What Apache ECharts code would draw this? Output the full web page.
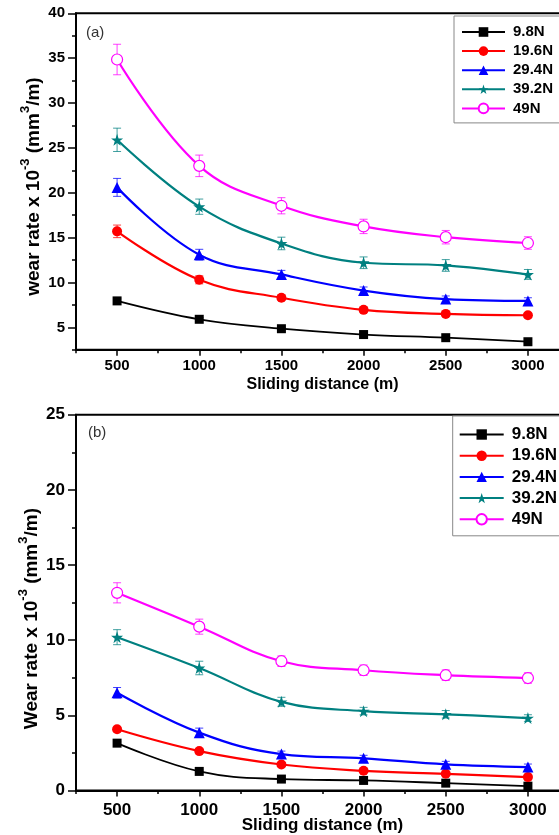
<!DOCTYPE html>
<html>
<head>
<meta charset="utf-8">
<script src="https://cdn.jsdelivr.net/npm/echarts@6/dist/echarts.min.js"></script>
<style>
html,body{margin:0;padding:0;background:#fff;}
#chart{width:559px;height:835px;}
</style>
</head>
<body>
<div id="chart"></div>
<script>
// ---- data ----
const distances = [500, 1000, 1500, 2000, 2500, 3000];
const loadNames = ['9.8N', '19.6N', '29.4N', '39.2N', '49N'];

// panel (a)
const a_9_8  = [7.95, 5.9, 4.85, 4.2, 3.85, 3.4];
const a_19_6 = [15.7, 10.3, 8.3, 6.95, 6.5, 6.35];
const a_29_4 = [20.6, 13.1, 10.9, 9.1, 8.15, 7.95];
const a_39_2 = [25.9, 18.45, 14.35, 12.2, 11.9, 10.9];
const a_49   = [34.85, 23.0, 18.55, 16.25, 15.05, 14.4];
const aErr_9_8  = [0.25, 0.2, 0.15, 0.15, 0.15, 0.15];
const aErr_19_6 = [0.7, 0.45, 0.3, 0.3, 0.25, 0.25];
const aErr_29_4 = [1.0, 0.6, 0.45, 0.4, 0.35, 0.35];
const aErr_39_2 = [1.3, 0.85, 0.7, 0.65, 0.65, 0.55];
const aErr_49   = [1.7, 1.2, 0.9, 0.8, 0.75, 0.7];

// panel (b)
const b_9_8  = [3.15, 1.27, 0.76, 0.67, 0.49, 0.29];
const b_19_6 = [4.07, 2.62, 1.73, 1.31, 1.11, 0.89];
const b_29_4 = [6.5, 3.85, 2.42, 2.14, 1.74, 1.56];
const b_39_2 = [10.2, 8.15, 5.9, 5.28, 5.07, 4.82];
const b_49   = [13.15, 10.9, 8.6, 8.0, 7.67, 7.48];
const bErr_9_8  = [0.1, 0.1, 0.08, 0.08, 0.08, 0.08];
const bErr_19_6 = [0.15, 0.15, 0.12, 0.12, 0.12, 0.12];
const bErr_29_4 = [0.35, 0.3, 0.2, 0.2, 0.2, 0.2];
const bErr_39_2 = [0.5, 0.45, 0.3, 0.25, 0.25, 0.22];
const bErr_49   = [0.67, 0.5, 0.35, 0.35, 0.35, 0.35];

// ticks
const xTicks = [500, 1000, 1500, 2000, 2500, 3000];
const xMinorTicks = [250, 750, 1250, 1750, 2250, 2750, 3250];
const aYTicks = [5, 10, 15, 20, 25, 30, 35, 40];
const aYMinorTicks = [2.5, 7.5, 12.5, 17.5, 22.5, 27.5, 32.5, 37.5];
const bYTicks = [0, 5, 10, 15, 20, 25];
const bYMinorTicks = [2.5, 7.5, 12.5, 17.5, 22.5];

// ---- styles ----
const FONT = 'Liberation Sans';
const colors = ['#000000', '#ff0000', '#0000ff', '#008080', '#ff00ff'];
const starPath = 'path://M50,0 L61.8,35.1 L98.1,35.1 L68.7,56.8 L79.4,91.3 L50,70 L20.6,91.3 L31.3,56.8 L1.9,35.1 L38.2,35.1 Z';
const symbols = ['rect', 'circle', 'triangle', starPath, 'circle'];
const symbolSizes = [9, 10, 11, 12, 11];

const aVals = [a_9_8, a_19_6, a_29_4, a_39_2, a_49];
const aErrs = [aErr_9_8, aErr_19_6, aErr_29_4, aErr_39_2, aErr_49];
const bVals = [b_9_8, b_19_6, b_29_4, b_39_2, b_49];
const bErrs = [bErr_9_8, bErr_19_6, bErr_29_4, bErr_39_2, bErr_49];

function errRender(params, api) {
  const x = api.value(0), y = api.value(1), e = api.value(2);
  const hi = api.coord([x, y + e]);
  const lo = api.coord([x, y - e]);
  const cap = 4;
  const style = { stroke: api.visual('color'), lineWidth: 1, opacity: 0.75 };
  return {
    type: 'group',
    children: [
      { type: 'line', shape: { x1: hi[0], y1: hi[1], x2: lo[0], y2: lo[1] }, style: style },
      { type: 'line', shape: { x1: hi[0] - cap, y1: hi[1], x2: hi[0] + cap, y2: hi[1] }, style: style },
      { type: 'line', shape: { x1: lo[0] - cap, y1: lo[1], x2: lo[0] + cap, y2: lo[1] }, style: style }
    ]
  };
}

function makeSeries(vals, errs, axisIdx) {
  const out = [];
  vals.forEach((v, k) => {
    out.push({
      type: 'custom',
      name: loadNames[k] + '_err',
      xAxisIndex: axisIdx, yAxisIndex: axisIdx,
      itemStyle: { color: colors[k] },
      renderItem: errRender,
      data: distances.map((d, i) => [d, v[i], errs[k][i]]),
      z: 1, silent: true
    });
  });
  vals.forEach((v, k) => {
    const hollow = k === 4;
    out.push({
      type: 'line',
      name: loadNames[k],
      xAxisIndex: axisIdx, yAxisIndex: axisIdx,
      data: distances.map((d, i) => [d, v[i]]),
      smooth: 0.4,
      symbol: symbols[k],
      symbolSize: symbolSizes[k],
      showAllSymbol: true,
      color: colors[k],
      lineStyle: { color: colors[k], width: k === 0 ? 1.8 : 2.2 },
      itemStyle: hollow ? { color: '#ffffff', borderColor: colors[k], borderWidth: 1.2 } : { color: colors[k] },
      z: 3, animation: false
    });
  });
  return out;
}

function xAxes(gridIndex, labelSize, nameSize, labelMargin, nameGap) {
  return [{
    type: 'value', gridIndex: gridIndex, min: 250, max: 3250,
    position: 'bottom',
    axisLine: { show: true, onZero: false, lineStyle: { color: '#000', width: 2 } },
    axisTick: { show: true, customValues: xTicks, length: 6, lineStyle: { color: '#000', width: 1.5 } },
    axisLabel: { customValues: xTicks, formatter: v => String(v), color: '#000', fontFamily: FONT, fontWeight: 'bold', fontSize: labelSize, margin: labelMargin },
    splitLine: { show: false },
    name: 'Sliding distance (m)', nameLocation: 'middle', nameGap: nameGap, nameMoveOverlap: false,
    nameTextStyle: { color: '#000', fontFamily: FONT, fontWeight: 'bold', fontSize: nameSize }
  }, {
    type: 'value', gridIndex: gridIndex, min: 250, max: 3250,
    position: 'bottom',
    axisLine: { show: false, onZero: false },
    axisTick: { show: true, customValues: xMinorTicks, length: 3.5, lineStyle: { color: '#000', width: 1.5 } },
    axisLabel: { show: false, customValues: xMinorTicks },
    splitLine: { show: false }
  }];
}

function yAxes(gridIndex, min, max, ticks, minor, labelSize, nameRich, nameGap, pad) {
  return [{
    type: 'value', gridIndex: gridIndex, min: min, max: max,
    position: 'left',
    axisLine: { show: true, onZero: false, lineStyle: { color: '#000', width: 2 } },
    axisTick: { show: true, customValues: ticks, length: 8, lineStyle: { color: '#000', width: 1.5 } },
    axisLabel: { customValues: ticks, color: '#000', fontFamily: FONT, fontWeight: 'bold', fontSize: labelSize, margin: 11 },
    splitLine: { show: false },
    name: nameRich, nameLocation: 'middle', nameGap: nameGap, nameMoveOverlap: false,
    nameTextStyle: {
      color: '#000',
      padding: pad,
      rich: {
        m: { fontFamily: FONT, fontWeight: 'bold', fontSize: 19, color: '#000', lineHeight: 24, verticalAlign: 'bottom' },
        s: { fontFamily: FONT, fontWeight: 'bold', fontSize: 13, color: '#000', verticalAlign: 'top', lineHeight: 24 }
      }
    }
  }, {
    type: 'value', gridIndex: gridIndex, min: min, max: max,
    position: 'left',
    axisLine: { show: false, onZero: false },
    axisTick: { show: true, customValues: minor, length: 4, lineStyle: { color: '#000', width: 1.5 } },
    axisLabel: { show: false, customValues: minor },
    splitLine: { show: false }
  }];
}

const chart = echarts.init(document.getElementById('chart'), null, { renderer: 'canvas' });

const xa = xAxes(0, 15, 16, 9, 27);
const xb = xAxes(1, 17, 17, 11, 26);
const ya = yAxes(0, 2.5, 40, aYTicks, aYMinorTicks, 15, '{m|wear rate x 10}{s|-3}{m| (mm}{s|3}{m|/m)}', 33, [0, 10, 0, 0]);
const yb = yAxes(1, 0, 25, bYTicks, bYMinorTicks, 17, '{m|Wear rate x 10}{s|-3}{m| (mm}{s|3}{m|/m)}', 35, [0, 32, 0, 0]);

// axis index ordering: 0 = a main, 1 = b main, 2 = a minor, 3 = b minor
const xAxisList = [xa[0], xb[0], xa[1], xb[1]];
const yAxisList = [ya[0], yb[0], ya[1], yb[1]];

const legendCommon = {
  orient: 'vertical',
  backgroundColor: '#fff',
  borderColor: '#888',
  borderWidth: 1,
  borderRadius: 0,
  data: loadNames
};

const option = {
  animation: false,
  backgroundColor: '#ffffff',
  grid: [
    { left: 76, top: 13.3, width: 493, height: 336.5, show: true, borderColor: '#000', borderWidth: 2, backgroundColor: 'transparent', outerBoundsMode: 'none', containLabel: false },
    { left: 76, top: 414.7, width: 493, height: 375.8, show: true, borderColor: '#000', borderWidth: 2, backgroundColor: 'transparent', outerBoundsMode: 'none', containLabel: false }
  ],
  xAxis: xAxisList,
  yAxis: yAxisList,
  legend: [
    Object.assign({}, legendCommon, {
      left: 454, top: 16, padding: [8.5, 30, 7, 7],
      itemWidth: 43, itemHeight: 12, itemGap: 4.1,
      textStyle: { fontFamily: FONT, fontWeight: 'bold', fontSize: 15, color: '#000', padding: [0, 0, 0, 3] }
    }),
    Object.assign({}, legendCommon, {
      left: 452.7, top: 416, padding: [10, 30, 8, 6],
      itemWidth: 44, itemHeight: 13, itemGap: 4.2,
      textStyle: { fontFamily: FONT, fontWeight: 'bold', fontSize: 17, color: '#000', padding: [0, 0, 0, 3] }
    })
  ],
  graphic: [
    { type: 'text', left: 86, top: 25, style: { text: '(a)', font: '15px "Liberation Sans"', fill: '#333' } },
    { type: 'text', left: 88, top: 425, style: { text: '(b)', font: '15px "Liberation Sans"', fill: '#333' } }
  ],
  series: [].concat(makeSeries(aVals, aErrs, 0), makeSeries(bVals, bErrs, 1))
};

chart.setOption(option);
</script>
</body>
</html>
